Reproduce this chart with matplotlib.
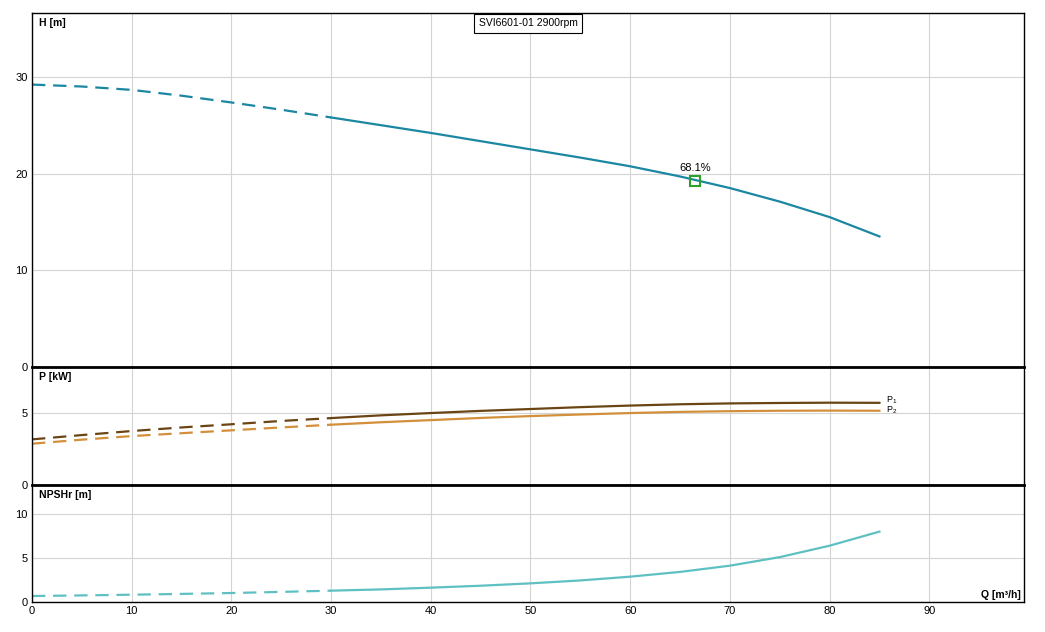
import matplotlib
matplotlib.use('Agg')
import matplotlib.pyplot as plt
import numpy as np

plt.rcParams['font.family'] = ['Liberation Sans', 'DejaVu Sans']
plt.rcParams['font.size'] = 8

# flow rate points (m3/h)
Q = [0, 5, 10, 15, 20, 25, 30, 35, 40, 45, 50, 55, 60, 65, 70, 75, 80, 85]
H = [29.2, 29.0, 28.65, 28.05, 27.35, 26.6, 25.8, 25.0, 24.2, 23.35, 22.5,
     21.65, 20.75, 19.7, 18.5, 17.1, 15.5, 13.5]
P1 = [3.17, 3.47, 3.75, 4.0, 4.22, 4.45, 4.65, 4.84, 5.0, 5.15, 5.28, 5.41,
      5.52, 5.61, 5.67, 5.7, 5.72, 5.71]
P2 = [2.87, 3.15, 3.4, 3.6, 3.8, 4.0, 4.19, 4.36, 4.51, 4.66, 4.79, 4.9,
      5.0, 5.08, 5.13, 5.16, 5.17, 5.16]
NPSH = [0.68, 0.75, 0.83, 0.92, 1.02, 1.15, 1.29, 1.43, 1.63, 1.85, 2.12,
        2.45, 2.88, 3.42, 4.13, 5.1, 6.4, 8.0]
Q_dash_end = 30
duty_Q, duty_H, duty_eff = 66.5, 19.25, '68.1%'
title = 'SVI6601-01 2900rpm'

Q = np.array(Q)
dash = Q <= Q_dash_end
solid = Q >= Q_dash_end

c_H = '#1c87a2'
c_P1 = '#6b4414'
c_P2 = '#d38f3a'
c_N = '#5fc0c2'
grid_c = '#d4d4d4'

fig = plt.figure(figsize=(10.45, 6.32), dpi=100)
L, W = 32 / 1045, 992 / 1045
axH = fig.add_axes([L, 265 / 632, W, 354 / 632])
axP = fig.add_axes([L, 147 / 632, W, 118 / 632], sharex=axH)
axN = fig.add_axes([L, 30 / 632, W, 117 / 632], sharex=axH)

for ax in (axH, axP, axN):
    ax.set_xlim(0, 99.5)
    ax.set_xticks(range(0, 100, 10))
    ax.grid(True, color=grid_c, lw=0.8)
    ax.tick_params(length=0, pad=3, labelsize=8)
    for s in ax.spines.values():
        s.set_linewidth(1.0)
    ax.set_axisbelow(True)
axH.tick_params(labelbottom=False)
axP.tick_params(labelbottom=False)
axP.spines['top'].set_linewidth(2.0)
axN.spines['top'].set_linewidth(2.0)

axH.set_ylim(0, 36.6)
axH.set_yticks([0, 10, 20, 30])
axP.set_ylim(0, 8.2)
axP.set_yticks([0, 5])
axN.set_ylim(0, 13.3)
axN.set_yticks([0, 5, 10])

dsh = (6, 3.5)
lw = 1.6
axH.plot(Q[dash], np.array(H)[dash], color=c_H, lw=lw, dashes=dsh)
axH.plot(Q[solid], np.array(H)[solid], color=c_H, lw=lw)
axH.plot(duty_Q, duty_H, marker='s', ms=7.5, mfc='none', mec='#2ea02e', mew=1.5)
axH.text(duty_Q, duty_H + 0.8, duty_eff, ha='center', va='bottom', fontsize=8)
axH.text(0.007, 0.985, 'H [m]', transform=axH.transAxes, ha='left', va='top',
         fontweight='bold', fontsize=7.5)
axH.text(0.5, 0.985, title, transform=axH.transAxes, ha='center', va='top', fontsize=7.5,
         bbox=dict(boxstyle='square,pad=0.45', fc='white', ec='black', lw=0.8))

axP.plot(Q[dash], np.array(P1)[dash], color=c_P1, lw=lw, dashes=dsh)
axP.plot(Q[solid], np.array(P1)[solid], color=c_P1, lw=lw)
axP.plot(Q[dash], np.array(P2)[dash], color=c_P2, lw=lw, dashes=dsh)
axP.plot(Q[solid], np.array(P2)[solid], color=c_P2, lw=lw)
axP.text(Q[-1] + 0.7, P1[-1] + 0.2, '$\\mathregular{P_1}$', fontsize=6.5, va='center')
axP.text(Q[-1] + 0.7, P2[-1] + 0.05, '$\\mathregular{P_2}$', fontsize=6.5, va='center')
axP.text(0.007, 0.96, 'P [kW]', transform=axP.transAxes, ha='left', va='top',
         fontweight='bold', fontsize=7.5)

axN.plot(Q[dash], np.array(NPSH)[dash], color=c_N, lw=lw, dashes=dsh)
axN.plot(Q[solid], np.array(NPSH)[solid], color=c_N, lw=lw)
axN.text(0.007, 0.96, 'NPSHr [m]', transform=axN.transAxes, ha='left', va='top',
         fontweight='bold', fontsize=7.5)
axN.text(0.997, 0.02, 'Q [m³/h]', transform=axN.transAxes, ha='right', va='bottom',
         fontweight='bold', fontsize=7.5)

plt.savefig('out.png', dpi=100)
